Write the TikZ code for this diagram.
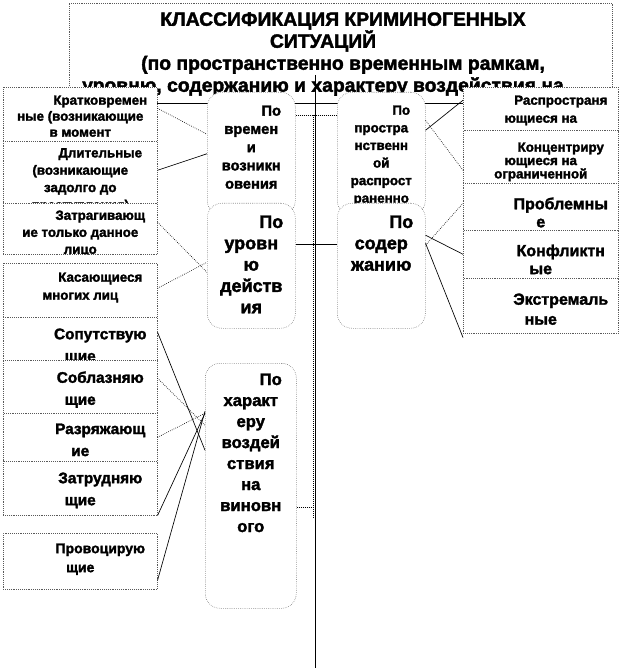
\documentclass[tikz,border=0pt]{standalone}
\usepackage{fontspec}
\setmainfont{Liberation Sans}[BoldFeatures={FakeBold=2}]

\tikzset{
  box/.style={draw=black!65, densely dotted, fill=white, inner sep=0pt, anchor=north west},
  rbox/.style={box, rounded corners=11pt},
  txt/.style n args={3}{path picture={%
    \node[anchor=north, align=center, inner sep=0pt, minimum width=0pt, minimum height=0pt,
          draw=none, fill=none, font=\bfseries\fontsize#1\selectfont]
      at ([yshift=-#2]path picture bounding box.north) {\hspace*{30pt}#3};}},
  link/.style={line width=0.5pt},
  dlink/.style={line width=0.5pt, densely dotted},
}

\begin{document}
\begin{tikzpicture}[x=0.75pt, y=-0.75pt]
    \useasboundingbox (0,0) rectangle (622,670);

    % heading and trunk
    \node[box, minimum width=407.25pt, minimum height=75pt] (head) at (69,3) {};
    \node[anchor=north, align=center, inner sep=0pt, font=\bfseries\fontsize{14.5}{16.5}\selectfont] (headtxt) at (323,12)
        {\hspace*{30pt}КЛАССИФИКАЦИЯ КРИМИНОГЕННЫХ\\СИТУАЦИЙ\\\hspace*{30pt}(по пространственно временным рамкам,\\уровню, содержанию и характеру воздействия на};
    \draw[link] (head.south west) -- (head.south east);
    \coordinate (trunktop) at (315,75);
    \coordinate (trunkbot) at (315,668);
    \draw[link] (trunktop) -- (trunkbot);

    % left column
    \node[box, minimum width=115.5pt, minimum height=40.5pt, txt={{10}{12}}{6pt}{Кратковремен\\ные (возникающие\\в момент}] (l1) at (3,87) {};
    \node[box, minimum width=115.5pt, minimum height=46.5pt, txt={{10}{13}}{5pt}{Длительные\\(возникающие\\задолго до\\преступления)}] (l2) at (3,141) {};
    \node[box, minimum width=115.5pt, minimum height=38.25pt, txt={{10}{12.75}}{5.25pt}{Затрагивающ\\ие только данное\\лицо}] (l3) at (3,203) {};
    \node[box, minimum width=115.5pt, minimum height=40.5pt, txt={{10}{13.5}}{6.75pt}{Касающиеся\\многих лиц}] (l4) at (3,263) {};
    \node[box, minimum width=115.5pt, minimum height=32.25pt, txt={{11.5}{16.5}}{8.25pt}{Сопутствую\\щие}] (l5) at (3,317) {};
    \node[box, minimum width=115.5pt, minimum height=39.75pt, txt={{11.5}{16.5}}{8.25pt}{Соблазняю\\щие}] (l6) at (3,360) {};
    \node[box, minimum width=115.5pt, minimum height=36pt, txt={{11.5}{16.5}}{7.5pt}{Разряжающ\\ие}] (l7) at (3,413) {};
    \node[box, minimum width=115.5pt, minimum height=40.5pt, txt={{11.5}{16.5}}{8.25pt}{Затрудняю\\щие}] (l8) at (3,461) {};
    \node[box, minimum width=115.5pt, minimum height=42pt, txt={{10.5}{14.25}}{7.5pt}{Провоцирую\\щие}] (l9) at (3,533) {};

    % middle
    \node[rbox, minimum width=66pt, minimum height=92.25pt, txt={{11}{13.7}}{9.75pt}{По\\времен\\и\\возникн\\овения}] (time) at (207,92) {};
    \node[rbox, minimum width=66pt, minimum height=92.25pt, txt={{10}{13.2}}{9.75pt}{По\\простра\\нственн\\ой\\распрост\\раненно}] (space) at (337,92) {};
    \node[rbox, minimum width=66pt, minimum height=93.75pt, txt={{13.5}{16}}{9pt}{По\\уровн\\ю\\действ\\ия}] (level) at (207,203) {};
    \node[rbox, minimum width=66pt, minimum height=93.75pt, txt={{13.5}{16}}{9pt}{По\\содер\\жанию}] (content) at (337,203) {};
    \node[rbox, minimum width=68.25pt, minimum height=183.75pt, txt={{12.5}{15.75}}{7.5pt}{По\\характ\\еру\\воздей\\ствия\\на\\виновн\\ого}] (impact) at (205,363) {};

    % right column
    \node[box, minimum width=116.25pt, minimum height=32.25pt, txt={{10}{13.5}}{6pt}{Распространя\\ющиеся на}] (r1) at (463,87) {};
    \node[box, minimum width=116.25pt, minimum height=39.75pt, txt={{10}{10}}{9pt}{Концентриру\\ющиеся на\\ограниченной}] (r2) at (463,130) {};
    \node[box, minimum width=116.25pt, minimum height=35.25pt, txt={{12}{13.5}}{10.5pt}{Проблемны\\е}] (r3) at (463,183) {};
    \node[box, minimum width=116.25pt, minimum height=36pt, txt={{12}{13.5}}{10.5pt}{Конфликтн\\ые}] (r4) at (463,230) {};
    \node[box, minimum width=116.25pt, minimum height=41.25pt, txt={{12}{15}}{11.25pt}{Экстремаль\\ные}] (r5) at (463,278) {};

    % links
    \draw[dlink] ([yshift=4.5pt]l1.east) -- ([yshift=14.6pt]time.west);
    \draw[link] ([yshift=1.5pt]l2.east) -- (time.west);
    \draw[dlink] ([yshift=4.9pt]l3.east) -- ([yshift=-4.9pt]level.west);
    \draw[dlink] ([yshift=1.5pt]l4.east) -- ([yshift=2.6pt]level.west);
    \draw[link] ([yshift=4.9pt]l5.east) -- ([yshift=26.6pt]impact.west);
    \draw[dlink] ([yshift=6.4pt]l6.east) -- ([yshift=45.4pt]impact.west);
    \draw[dlink] (l7.east) -- ([yshift=54.4pt]impact.west);
    \draw[link] (l8.south east) -- ([yshift=54.4pt]impact.west);
    \draw[link] ([yshift=-14.3pt]l9.east) -- ([yshift=55.9pt]impact.west);

    \draw[link] ([yshift=17.6pt]space.east) -- ([yshift=6.4pt]r1.west);
    \draw[dlink] ([yshift=25.1pt]space.east) -- ([yshift=-10.1pt]r2.west);
    \draw[dlink] ([yshift=15.4pt]content.east) -- ([yshift=2.6pt]r3.west);
    \draw[link] ([yshift=22.9pt]content.east) -- (r4.west);
    \draw[link] ([yshift=16.9pt]content.east) -- ([yshift=-3pt]r5.south west);

    \draw[link] ([yshift=16.1pt]level.east) -- ([yshift=16.1pt]content.west);
    \draw[dlink] ([yshift=28.9pt]time.east) -- ([yshift=28.9pt]space.west);
    \coordinate (spinetop) at (313,115);
    \coordinate (spinebot) at (313,518);
    \draw[dlink] (spinetop) -- (spinebot);
    \draw[dlink] ([yshift=-16.1pt]impact.east) -| (spinetop);
\end{tikzpicture}
\end{document}
